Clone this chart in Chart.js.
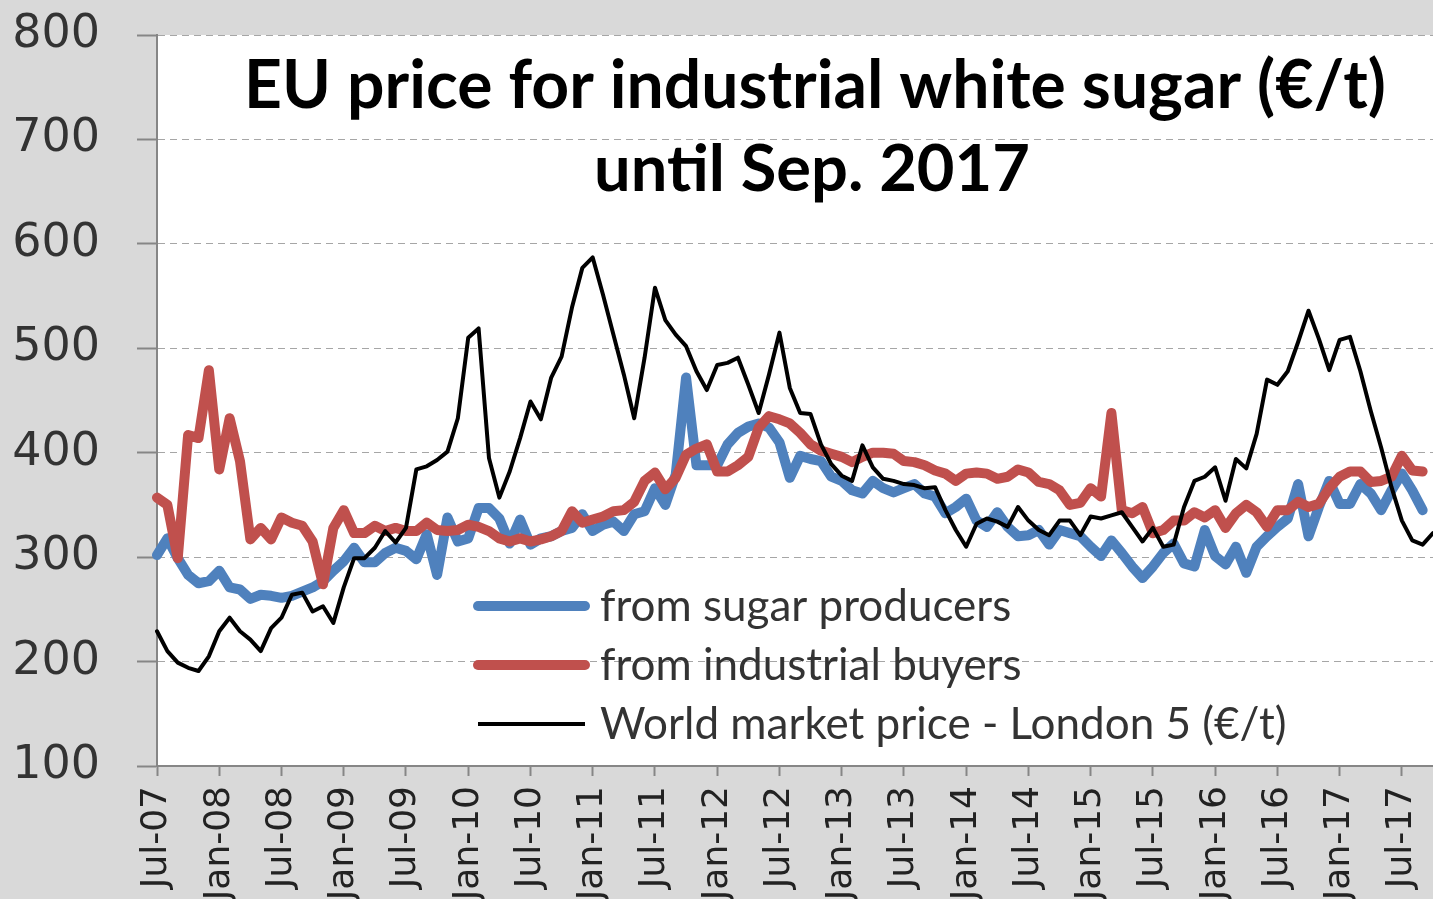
<!DOCTYPE html>
<html>
<head>
<meta charset="utf-8">
<title>EU price for industrial white sugar</title>
<script src="https://cdn.jsdelivr.net/npm/chart.js@4.4.1/dist/chart.umd.min.js"></script>
<style>
  html, body { margin: 0; padding: 0; background: #d9d9d9; }
  #wrap { width: 1433px; height: 899px; position: relative; }
</style>
</head>
<body>
<div id="wrap"><canvas id="chart"></canvas></div>
<script>
// monthly categories, Jul-07 .. Oct-17
const months = [
  'Jul-07','Aug-07','Sep-07','Oct-07','Nov-07','Dec-07',
  'Jan-08','Feb-08','Mar-08','Apr-08','May-08','Jun-08','Jul-08','Aug-08','Sep-08','Oct-08','Nov-08','Dec-08',
  'Jan-09','Feb-09','Mar-09','Apr-09','May-09','Jun-09','Jul-09','Aug-09','Sep-09','Oct-09','Nov-09','Dec-09',
  'Jan-10','Feb-10','Mar-10','Apr-10','May-10','Jun-10','Jul-10','Aug-10','Sep-10','Oct-10','Nov-10','Dec-10',
  'Jan-11','Feb-11','Mar-11','Apr-11','May-11','Jun-11','Jul-11','Aug-11','Sep-11','Oct-11','Nov-11','Dec-11',
  'Jan-12','Feb-12','Mar-12','Apr-12','May-12','Jun-12','Jul-12','Aug-12','Sep-12','Oct-12','Nov-12','Dec-12',
  'Jan-13','Feb-13','Mar-13','Apr-13','May-13','Jun-13','Jul-13','Aug-13','Sep-13','Oct-13','Nov-13','Dec-13',
  'Jan-14','Feb-14','Mar-14','Apr-14','May-14','Jun-14','Jul-14','Aug-14','Sep-14','Oct-14','Nov-14','Dec-14',
  'Jan-15','Feb-15','Mar-15','Apr-15','May-15','Jun-15','Jul-15','Aug-15','Sep-15','Oct-15','Nov-15','Dec-15',
  'Jan-16','Feb-16','Mar-16','Apr-16','May-16','Jun-16','Jul-16','Aug-16','Sep-16','Oct-16','Nov-16','Dec-16',
  'Jan-17','Feb-17','Mar-17','Apr-17','May-17','Jun-17','Jul-17','Aug-17','Sep-17','Oct-17'
];

// €/t
const sugarProducers = [
  302, 318, 299, 283, 275, 277,
  287, 271, 269, 260, 264, 263, 261, 263, 267, 271, 277, 287,
  296, 309, 295, 295, 304, 309, 306, 298, 322, 283, 338, 315,
  318, 347, 347, 337, 313, 336, 312, 318, 320, 325, 328, 341,
  325, 331, 334, 325, 341, 344, 366, 350, 379, 472, 388, 388,
  388, 408, 419, 425, 428, 424, 410, 376, 397, 394, 392, 377,
  373, 364, 361, 373, 366, 362, 366, 370, 361, 358, 342, 348,
  356, 335, 329, 343, 329, 320, 321, 326, 312, 326, 323, 320,
  310, 301, 316, 304, 291, 280, 291, 304, 313, 294, 291, 326,
  301, 293, 310, 285, 310, 320, 329, 337, 370, 320, 348, 373,
  351, 351, 370, 361, 345, 364, 380, 364, 345
];

const industrialBuyers = [
  357, 350, 299, 417, 414, 479,
  384, 433, 392, 317, 328, 317, 338, 333, 330, 315, 274, 328,
  345, 323, 323, 330, 325, 328, 325, 325, 333, 326, 325, 326,
  331, 329, 325, 318, 315, 318, 315, 317, 320, 325, 344, 333,
  336, 339, 344, 345, 353, 373, 381, 365, 376, 398, 404, 408,
  382, 382, 388, 396, 424, 435, 432, 428, 419, 408, 402, 399,
  396, 391, 396, 400, 400, 399, 392, 391, 388, 383, 380, 373,
  380, 381, 380, 375, 377, 384, 381, 372, 370, 364, 350, 352,
  366, 358, 438, 345, 342, 348, 323, 326, 335, 335, 343, 338,
  345, 328, 342, 350, 343, 329, 345, 345, 353, 348, 351, 366,
  377, 382, 382, 372, 373, 377, 397, 383, 382
];

const worldMarket = [
  229, 210, 199, 194, 191, 205,
  229, 242, 229, 221, 210, 232, 242, 264, 266, 248, 253, 237,
  271, 299, 299, 309, 325, 314, 328, 384, 387, 393, 401, 433,
  510, 519, 395, 357, 382, 414, 449, 432, 472, 492, 539, 577,
  587, 551, 513, 475, 433, 491, 558, 527, 513, 502, 478, 460,
  484, 486, 491, 465, 438, 475, 515, 462, 438, 437, 408, 389,
  378, 373, 407, 386, 375, 373, 370, 369, 366, 367, 345, 326,
  310, 332, 337, 334, 329, 348, 335, 326, 321, 335, 335, 321,
  339, 337, 340, 343, 329, 315, 328, 310, 312, 348, 373, 377,
  386, 354, 394, 385, 418, 470, 465, 478, 506, 536, 509, 479,
  508, 511, 478, 440, 405, 367, 335, 316, 312, 323
];

const titleLines = ['EU price for industrial white sugar (€/t)', 'until Sep. 2017'];
const seriesNames = ['from sugar producers', 'from industrial buyers', 'World market price - London 5 (€/t)'];

// white plot area on the grey page
const plotBackground = {
  id: 'plotBackground',
  beforeDraw(chart) {
    const { ctx, chartArea: a } = chart;
    ctx.save();
    ctx.fillStyle = '#ffffff';
    ctx.fillRect(a.left, a.top, a.right - a.left, a.bottom - a.top);
    ctx.restore();
  }
};

// title and legend sit inside the plot, like the Excel original
const insideText = {
  id: 'insideText',
  afterDraw(chart) {
    const ctx = chart.ctx;
    ctx.save();
    ctx.fillStyle = '#000';
    ctx.textAlign = 'center';
    ctx.textBaseline = 'alphabetic';
    ctx.font = 'bold 66px Lato';
    ctx.fillText(titleLines[0], 815, 108);
    ctx.font = 'bold 65px Lato';
    ctx.fillText(titleLines[1], 812, 191);

    ctx.textAlign = 'left';
    ctx.textBaseline = 'middle';
    ctx.font = '44px Lato';
    chart.data.datasets.forEach((ds, i) => {
      const y = 606 + i * 59;
      ctx.strokeStyle = ds.borderColor;
      ctx.lineWidth = ds.borderWidth;
      ctx.lineCap = ds.borderWidth > 5 ? 'round' : 'butt';
      ctx.beginPath();
      ctx.moveTo(478, y);
      ctx.lineTo(585, y);
      ctx.stroke();
      ctx.fillStyle = '#333';
      ctx.fillText(ds.label, 600, y + 1);
    });
    ctx.restore();
  }
};

const axisGrey = '#868686';

new Chart(document.getElementById('chart'), {
  type: 'line',
  data: {
    labels: months,
    datasets: [
      { label: seriesNames[0], data: sugarProducers, borderColor: '#4f81bd', borderWidth: 10, order: 2 },
      { label: seriesNames[1], data: industrialBuyers, borderColor: '#c0504d', borderWidth: 10, order: 1 },
      { label: seriesNames[2], data: worldMarket, borderColor: '#000000', borderWidth: 4, order: 0 }
    ]
  },
  options: {
    responsive: true,
    maintainAspectRatio: false,
    animation: false,
    layout: { padding: { top: 35, left: 0, right: 0, bottom: 0 } },
    elements: {
      point: { radius: 0 },
      line: { tension: 0, borderJoinStyle: 'round', borderCapStyle: 'round' }
    },
    plugins: {
      legend: { display: false },
      tooltip: { enabled: false },
      title: { display: false }
    },
    scales: {
      x: {
        ticks: {
          autoSkip: false,
          minRotation: 90,
          maxRotation: 90,
          padding: 10,
          color: '#222',
          font: { family: 'DejaVu Sans', size: 36 }
        },
        grid: { drawOnChartArea: false, tickLength: 10, tickColor: axisGrey, tickWidth: 2 },
        border: { color: axisGrey, width: 2 },
        // only every sixth month gets a tick and label
        afterBuildTicks(scale) {
          scale.ticks = scale.ticks.filter(t => t.value % 6 === 0);
        },
        afterFit(scale) {
          scale.height = 133;
          scale.paddingLeft = 0;
          scale.paddingRight = 0;
        }
      },
      y: {
        min: 100,
        max: 800,
        ticks: {
          stepSize: 100,
          padding: 37,
          color: '#333',
          font: { family: 'DejaVu Sans', size: 46 }
        },
        grid: { color: '#a6a6a6', lineWidth: 1, tickLength: 20, tickColor: axisGrey, tickWidth: 2 },
        border: { color: axisGrey, width: 2, dash: [7, 5] },
        afterFit(scale) {
          scale.width = 157;
          scale.paddingTop = 0;
          scale.paddingBottom = 0;
        }
      }
    }
  },
  plugins: [plotBackground, insideText]
});
</script>
</body>
</html>
